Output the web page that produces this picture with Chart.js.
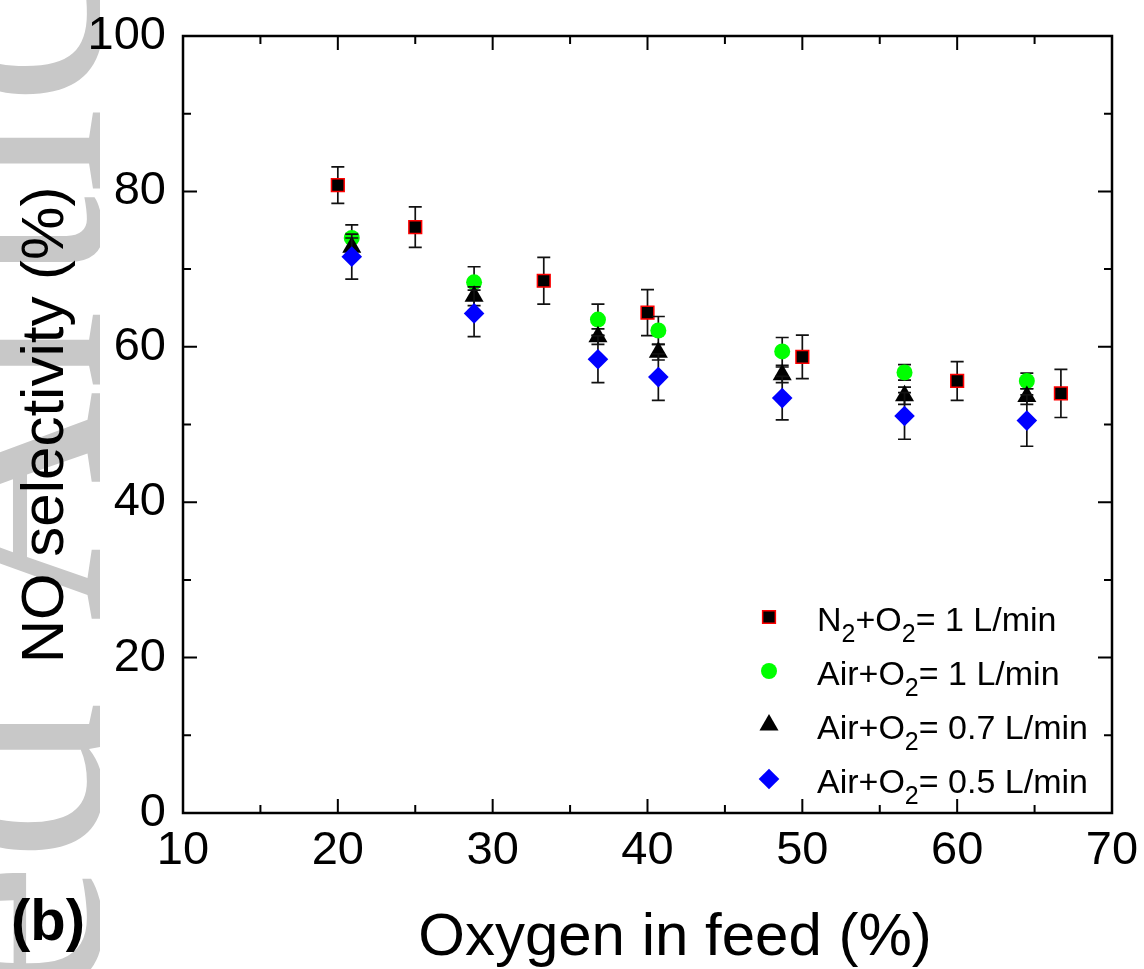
<!DOCTYPE html>
<html lang="en">
<head>
<meta charset="UTF-8" />
<title>NO selectivity vs oxygen in feed</title>
<style>
  body { margin: 0; background: #fff; }
  #chart { display: block; }
</style>
</head>
<body>
<canvas id="chart" width="1144" height="969"></canvas>
<script src="https://cdn.jsdelivr.net/npm/chart.js"></script>
<script>
// oxygen in feed (%)
const xN2 = [20, 25, 33.3, 40, 50, 60, 66.7];
const xAir = [20.9, 28.8, 36.8, 40.7, 48.7, 56.6, 64.5];

// NO selectivity (%) and its error bars (+/-)
const selN2 = [80.8, 75.4, 68.5, 64.4, 58.7, 55.6, 54.0];
const errN2 = [2.35, 2.6, 3.0, 2.95, 2.8, 2.5, 3.1];
const selAir10 = [74.0, 68.3, 63.5, 62.1, 59.4, 56.7, 55.6];
const errAir10 = [1.7, 2.0, 2.0, 1.8, 1.8, 1.0, 1.0];
const selAir07 = [72.8, 66.5, 61.3, 59.3, 56.4, 53.7, 53.6];
const errAir07 = [1.2, 1.2, 1.0, 1.0, 1.0, 1.1, 1.0];
const selAir05 = [71.6, 64.3, 58.4, 56.1, 53.4, 51.1, 50.5];
const errAir05 = [2.9, 3.0, 3.0, 3.0, 2.8, 3.0, 3.3];

// "_2" marks a subscript 2
const seriesNames = ['N_2+O_2= 1 L/min', 'Air+O_2= 1 L/min', 'Air+O_2= 0.7 L/min', 'Air+O_2= 0.5 L/min'];

const FONT = '"Liberation Sans", Arial, sans-serif';
Chart.defaults.font.family = FONT;
Chart.defaults.color = '#000';

function pts(xs, ys) {
  return xs.map((x, i) => ({ x: x, y: ys[i] }));
}

function series(i, xs, ys, errs, style, radius, fill, border, bw) {
  return {
    label: seriesNames[i],
    data: pts(xs, ys),
    errors: errs,
    showLine: false,
    pointStyle: style,
    pointRadius: radius,
    pointHoverRadius: radius,
    pointBackgroundColor: fill,
    pointBorderColor: border,
    pointBorderWidth: bw,
    backgroundColor: fill,
    borderColor: border,
    borderWidth: bw,
    order: 4 - i
  };
}

// white page + the grey watermark on the left edge
const page = {
  id: 'page',
  beforeDraw(chart) {
    const ctx = chart.ctx;
    ctx.save();
    ctx.fillStyle = '#fff';
    ctx.fillRect(0, 0, chart.width, chart.height);
    ctx.beginPath();
    ctx.rect(0, 0, 100, chart.height);
    ctx.clip();
    ctx.translate(100, 1910);
    ctx.rotate(-Math.PI / 2);
    ctx.font = '320px "Liberation Serif", serif';
    ctx.fillStyle = '#c8c8c8';
    ctx.textAlign = 'left';
    ctx.textBaseline = 'alphabetic';
    ctx.fillText('Accepted Article', 0, 0);
    ctx.restore();
  }
};

const errorBars = {
  id: 'errorBars',
  beforeDatasetDraw(chart, args) {
    const ds = chart.data.datasets[args.index];
    const ys = chart.scales.y;
    const ctx = chart.ctx;
    ctx.save();
    ctx.strokeStyle = '#111';
    ctx.lineWidth = 1.7;
    ctx.beginPath();
    args.meta.data.forEach((pt, i) => {
      const v = ds.data[i].y, e = ds.errors[i];
      const top = ys.getPixelForValue(v + e);
      const bot = ys.getPixelForValue(v - e);
      ctx.moveTo(pt.x, top); ctx.lineTo(pt.x, bot);
      ctx.moveTo(pt.x - 6.5, top); ctx.lineTo(pt.x + 6.5, top);
      ctx.moveTo(pt.x - 6.5, bot); ctx.lineTo(pt.x + 6.5, bot);
    });
    ctx.stroke();
    ctx.restore();
  }
};

// box with inward major/minor ticks on all four sides
const frame = {
  id: 'frame',
  afterDatasetsDraw(chart) {
    const { ctx, chartArea: a, scales } = chart;
    ctx.save();
    ctx.strokeStyle = '#000';
    ctx.lineWidth = 2;
    ctx.beginPath();
    const xt = scales.x.ticks.map(t => t.value);
    xt.forEach((v, i) => {
      const marks = [[v, 14]];
      if (i < xt.length - 1) marks.push([(v + xt[i + 1]) / 2, 8]);
      marks.forEach(([m, len]) => {
        const px = scales.x.getPixelForValue(m);
        ctx.moveTo(px, a.bottom); ctx.lineTo(px, a.bottom - len);
        ctx.moveTo(px, a.top); ctx.lineTo(px, a.top + len);
      });
    });
    const yt = scales.y.ticks.map(t => t.value);
    yt.forEach((v, i) => {
      const marks = [[v, 14]];
      if (i < yt.length - 1) marks.push([(v + yt[i + 1]) / 2, 8]);
      marks.forEach(([m, len]) => {
        const py = scales.y.getPixelForValue(m);
        ctx.moveTo(a.left, py); ctx.lineTo(a.left + len, py);
        ctx.moveTo(a.right, py); ctx.lineTo(a.right - len, py);
      });
    });
    ctx.stroke();
    ctx.lineWidth = 2.5;
    ctx.strokeRect(a.left, a.top, a.right - a.left, a.bottom - a.top);
    ctx.restore();
  }
};

function drawRich(ctx, text, x, y, size) {
  const parts = text.split('_');
  parts.forEach((p, i) => {
    let s = p;
    if (i > 0) {
      ctx.font = Math.round(size * 0.74) + 'px ' + FONT;
      ctx.fillText(s[0], x, y + 11);
      x += ctx.measureText(s[0]).width;
      s = s.slice(1);
    }
    ctx.font = size + 'px ' + FONT;
    ctx.fillText(s, x, y);
    x += ctx.measureText(s).width;
  });
}

const legendBox = {
  id: 'legendBox',
  afterDraw(chart) {
    const ctx = chart.ctx;
    ctx.save();
    chart.data.datasets.forEach((ds, i) => {
      const cy = 617 + i * 54;
      ctx.fillStyle = ds.pointBackgroundColor;
      ctx.strokeStyle = ds.pointBorderColor;
      ctx.lineWidth = ds.pointBorderWidth;
      Chart.helpers.drawPoint(ctx, {
        pointStyle: ds.pointStyle,
        radius: ds.pointRadius,
        borderWidth: ds.pointBorderWidth,
        rotation: 0
      }, 769, cy);
      ctx.fillStyle = '#000';
      ctx.textAlign = 'left';
      ctx.textBaseline = 'alphabetic';
      drawRich(ctx, ds.label, 817, cy + 13.5, 34);
    });
    ctx.restore();
  }
};

const titles = {
  id: 'titles',
  afterDraw(chart) {
    const ctx = chart.ctx;
    ctx.save();
    ctx.fillStyle = '#000';
    ctx.textBaseline = 'alphabetic';
    ctx.textAlign = 'center';
    ctx.font = '60px ' + FONT;
    ctx.fillText('Oxygen in feed (%)', 675, 955);
    ctx.translate(63, 425);
    ctx.rotate(-Math.PI / 2);
    ctx.fillText('NO selectivity (%)', 0, 0);
    ctx.restore();
    ctx.save();
    ctx.fillStyle = '#000';
    ctx.font = 'bold 58px ' + FONT;
    ctx.textAlign = 'left';
    ctx.fillText('(b)', 11, 940);
    ctx.restore();
  }
};

new Chart(document.getElementById('chart'), {
  type: 'scatter',
  data: {
    datasets: [
      series(0, xN2, selN2, errN2, 'rect', 9, '#000000', '#ff0000', 1.5),
      series(1, xAir, selAir10, errAir10, 'circle', 8, '#00ff00', '#00ff00', 0),
      series(2, xAir, selAir07, errAir07, 'triangle', 11, '#000000', '#000000', 0),
      series(3, xAir, selAir05, errAir05, 'rectRot', 10.3, '#0000ff', '#0000ff', 0)
    ]
  },
  options: {
    responsive: false,
    animation: false,
    events: [],
    layout: { padding: { top: 36, right: 32, left: 0, bottom: 0 } },
    plugins: {
      legend: { display: false },
      tooltip: { enabled: false }
    },
    scales: {
      x: {
        type: 'linear',
        min: 10,
        max: 70,
        afterFit(scale) {
          scale.height = 156;
          scale.paddingLeft = 0;
          scale.paddingRight = 0;
        },
        grid: { display: false, drawTicks: false },
        border: { display: false },
        ticks: {
          stepSize: 10,
          autoSkip: false,
          maxRotation: 0,
          padding: 10,
          font: { size: 47 },
          color: '#000'
        }
      },
      y: {
        type: 'linear',
        min: 0,
        max: 100,
        afterFit(scale) {
          scale.width = 183;
          scale.paddingTop = 0;
          scale.paddingBottom = 0;
        },
        grid: { display: false, drawTicks: false },
        border: { display: false },
        ticks: {
          stepSize: 20,
          padding: 17,
          font: { size: 47 },
          color: '#000'
        }
      }
    }
  },
  plugins: [page, errorBars, frame, legendBox, titles]
});
</script>
</body>
</html>
